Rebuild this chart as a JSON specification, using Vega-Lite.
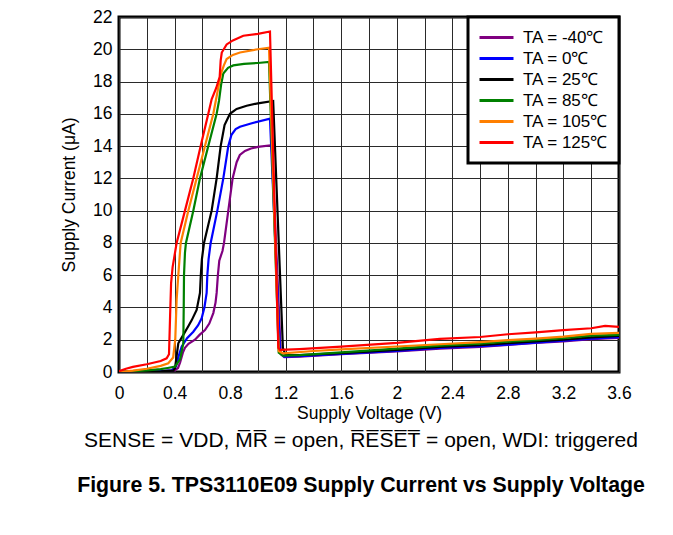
{
 "$schema": "https://vega.github.io/schema/vega-lite/v6.json",
 "width": 500,
 "height": 355,
 "autosize": "none",
 "padding": {"left": 119, "top": 17, "right": 54, "bottom": 163},
 "background": "white",
 "datasets": {
  "curves": [
   {"s":"TA = -40℃","v":0,"i":0},{"s":"TA = -40℃","v":0.1,"i":0.01},{"s":"TA = -40℃","v":0.2,"i":0.02},{"s":"TA = -40℃","v":0.3,"i":0.05},{"s":"TA = -40℃","v":0.4,"i":0.1},{"s":"TA = -40℃","v":0.425,"i":0.25},{"s":"TA = -40℃","v":0.44,"i":0.6},{"s":"TA = -40℃","v":0.46,"i":1.2},{"s":"TA = -40℃","v":0.475,"i":1.5},{"s":"TA = -40℃","v":0.5,"i":1.75},{"s":"TA = -40℃","v":0.547,"i":2.0},{"s":"TA = -40℃","v":0.58,"i":2.3},{"s":"TA = -40℃","v":0.619,"i":2.6},{"s":"TA = -40℃","v":0.65,"i":3.0},{"s":"TA = -40℃","v":0.679,"i":3.65},{"s":"TA = -40℃","v":0.695,"i":4.3},{"s":"TA = -40℃","v":0.703,"i":4.9},{"s":"TA = -40℃","v":0.712,"i":6.0},{"s":"TA = -40℃","v":0.722,"i":6.9},{"s":"TA = -40℃","v":0.745,"i":7.5},{"s":"TA = -40℃","v":0.756,"i":8.0},{"s":"TA = -40℃","v":0.787,"i":10.0},{"s":"TA = -40℃","v":0.818,"i":12.0},{"s":"TA = -40℃","v":0.847,"i":13.0},{"s":"TA = -40℃","v":0.87,"i":13.45},{"s":"TA = -40℃","v":0.907,"i":13.7},{"s":"TA = -40℃","v":0.95,"i":13.85},{"s":"TA = -40℃","v":1.0,"i":13.95},{"s":"TA = -40℃","v":1.1,"i":14.06},{"s":"TA = -40℃","v":1.165,"i":1.1},{"s":"TA = -40℃","v":1.19,"i":0.92},{"s":"TA = -40℃","v":1.3,"i":0.95},{"s":"TA = -40℃","v":1.6,"i":1.1},{"s":"TA = -40℃","v":2.0,"i":1.28},{"s":"TA = -40℃","v":2.31,"i":1.45},{"s":"TA = -40℃","v":2.6,"i":1.55},{"s":"TA = -40℃","v":2.8,"i":1.68},{"s":"TA = -40℃","v":3.0,"i":1.8},{"s":"TA = -40℃","v":3.2,"i":1.9},{"s":"TA = -40℃","v":3.4,"i":2.03},{"s":"TA = -40℃","v":3.6,"i":2.12},

   {"s":"TA = 0℃","v":0,"i":0},{"s":"TA = 0℃","v":0.1,"i":0.01},{"s":"TA = 0℃","v":0.2,"i":0.03},{"s":"TA = 0℃","v":0.3,"i":0.06},{"s":"TA = 0℃","v":0.38,"i":0.1},{"s":"TA = 0℃","v":0.41,"i":0.35},{"s":"TA = 0℃","v":0.43,"i":1.0},{"s":"TA = 0℃","v":0.451,"i":1.57},{"s":"TA = 0℃","v":0.49,"i":2.1},{"s":"TA = 0℃","v":0.535,"i":2.5},{"s":"TA = 0℃","v":0.57,"i":2.9},{"s":"TA = 0℃","v":0.595,"i":3.33},{"s":"TA = 0℃","v":0.615,"i":4.0},{"s":"TA = 0℃","v":0.631,"i":4.9},{"s":"TA = 0℃","v":0.636,"i":6.0},{"s":"TA = 0℃","v":0.645,"i":7.0},{"s":"TA = 0℃","v":0.66,"i":8.0},{"s":"TA = 0℃","v":0.708,"i":10.0},{"s":"TA = 0℃","v":0.751,"i":12.0},{"s":"TA = 0℃","v":0.787,"i":14.0},{"s":"TA = 0℃","v":0.81,"i":14.7},{"s":"TA = 0℃","v":0.84,"i":15.05},{"s":"TA = 0℃","v":0.871,"i":15.2},{"s":"TA = 0℃","v":0.95,"i":15.4},{"s":"TA = 0℃","v":1.087,"i":15.7},{"s":"TA = 0℃","v":1.16,"i":1.2},{"s":"TA = 0℃","v":1.19,"i":0.95},{"s":"TA = 0℃","v":1.3,"i":0.98},{"s":"TA = 0℃","v":1.6,"i":1.12},{"s":"TA = 0℃","v":2.0,"i":1.3},{"s":"TA = 0℃","v":2.31,"i":1.5},{"s":"TA = 0℃","v":2.6,"i":1.6},{"s":"TA = 0℃","v":2.8,"i":1.7},{"s":"TA = 0℃","v":3.0,"i":1.82},{"s":"TA = 0℃","v":3.2,"i":1.95},{"s":"TA = 0℃","v":3.4,"i":2.07},{"s":"TA = 0℃","v":3.6,"i":2.16},

   {"s":"TA = 25℃","v":0,"i":0},{"s":"TA = 25℃","v":0.1,"i":0.01},{"s":"TA = 25℃","v":0.2,"i":0.02},{"s":"TA = 25℃","v":0.3,"i":0.04},{"s":"TA = 25℃","v":0.39,"i":0.08},{"s":"TA = 25℃","v":0.403,"i":0.23},{"s":"TA = 25℃","v":0.415,"i":1.0},{"s":"TA = 25℃","v":0.427,"i":1.78},{"s":"TA = 25℃","v":0.463,"i":2.3},{"s":"TA = 25℃","v":0.5,"i":2.85},{"s":"TA = 25℃","v":0.523,"i":3.2},{"s":"TA = 25℃","v":0.559,"i":3.85},{"s":"TA = 25℃","v":0.583,"i":4.9},{"s":"TA = 25℃","v":0.589,"i":6.0},{"s":"TA = 25℃","v":0.597,"i":7.0},{"s":"TA = 25℃","v":0.612,"i":8.0},{"s":"TA = 25℃","v":0.667,"i":10.0},{"s":"TA = 25℃","v":0.703,"i":12.0},{"s":"TA = 25℃","v":0.732,"i":14.0},{"s":"TA = 25℃","v":0.76,"i":15.3},{"s":"TA = 25℃","v":0.799,"i":16.0},{"s":"TA = 25℃","v":0.847,"i":16.3},{"s":"TA = 25℃","v":0.919,"i":16.5},{"s":"TA = 25℃","v":1.0,"i":16.65},{"s":"TA = 25℃","v":1.11,"i":16.8},{"s":"TA = 25℃","v":1.18,"i":1.5},{"s":"TA = 25℃","v":1.2,"i":1.05},{"s":"TA = 25℃","v":1.3,"i":1.05},{"s":"TA = 25℃","v":1.6,"i":1.17},{"s":"TA = 25℃","v":2.0,"i":1.37},{"s":"TA = 25℃","v":2.31,"i":1.55},{"s":"TA = 25℃","v":2.6,"i":1.66},{"s":"TA = 25℃","v":2.8,"i":1.78},{"s":"TA = 25℃","v":3.0,"i":1.9},{"s":"TA = 25℃","v":3.2,"i":2.0},{"s":"TA = 25℃","v":3.4,"i":2.15},{"s":"TA = 25℃","v":3.6,"i":2.24},

   {"s":"TA = 85℃","v":0,"i":0},{"s":"TA = 85℃","v":0.1,"i":0.05},{"s":"TA = 85℃","v":0.2,"i":0.1},{"s":"TA = 85℃","v":0.3,"i":0.18},{"s":"TA = 85℃","v":0.35,"i":0.25},{"s":"TA = 85℃","v":0.403,"i":0.33},{"s":"TA = 85℃","v":0.44,"i":0.8},{"s":"TA = 85℃","v":0.463,"i":1.78},{"s":"TA = 85℃","v":0.466,"i":4.0},{"s":"TA = 85℃","v":0.468,"i":6.0},{"s":"TA = 85℃","v":0.475,"i":7.4},{"s":"TA = 85℃","v":0.482,"i":8.0},{"s":"TA = 85℃","v":0.535,"i":10.0},{"s":"TA = 85℃","v":0.583,"i":12.0},{"s":"TA = 85℃","v":0.643,"i":14.0},{"s":"TA = 85℃","v":0.703,"i":16.0},{"s":"TA = 85℃","v":0.72,"i":16.8},{"s":"TA = 85℃","v":0.735,"i":17.8},{"s":"TA = 85℃","v":0.751,"i":18.5},{"s":"TA = 85℃","v":0.785,"i":18.85},{"s":"TA = 85℃","v":0.823,"i":19.0},{"s":"TA = 85℃","v":0.9,"i":19.1},{"s":"TA = 85℃","v":1.0,"i":19.15},{"s":"TA = 85℃","v":1.08,"i":19.22},{"s":"TA = 85℃","v":1.15,"i":1.2},{"s":"TA = 85℃","v":1.18,"i":1.02},{"s":"TA = 85℃","v":1.3,"i":1.05},{"s":"TA = 85℃","v":1.6,"i":1.22},{"s":"TA = 85℃","v":2.0,"i":1.45},{"s":"TA = 85℃","v":2.31,"i":1.64},{"s":"TA = 85℃","v":2.6,"i":1.76},{"s":"TA = 85℃","v":2.8,"i":1.88},{"s":"TA = 85℃","v":3.0,"i":1.98},{"s":"TA = 85℃","v":3.2,"i":2.09},{"s":"TA = 85℃","v":3.4,"i":2.26},{"s":"TA = 85℃","v":3.6,"i":2.3},

   {"s":"TA = 105℃","v":0,"i":0},{"s":"TA = 105℃","v":0.1,"i":0.08},{"s":"TA = 105℃","v":0.2,"i":0.2},{"s":"TA = 105℃","v":0.3,"i":0.38},{"s":"TA = 105℃","v":0.355,"i":0.54},{"s":"TA = 105℃","v":0.39,"i":0.9},{"s":"TA = 105℃","v":0.405,"i":2.0},{"s":"TA = 105℃","v":0.415,"i":4.5},{"s":"TA = 105℃","v":0.427,"i":6.0},{"s":"TA = 105℃","v":0.444,"i":8.0},{"s":"TA = 105℃","v":0.499,"i":10.0},{"s":"TA = 105℃","v":0.559,"i":12.0},{"s":"TA = 105℃","v":0.619,"i":14.0},{"s":"TA = 105℃","v":0.679,"i":16.0},{"s":"TA = 105℃","v":0.71,"i":17.4},{"s":"TA = 105℃","v":0.735,"i":18.5},{"s":"TA = 105℃","v":0.755,"i":19.0},{"s":"TA = 105℃","v":0.775,"i":19.4},{"s":"TA = 105℃","v":0.82,"i":19.65},{"s":"TA = 105℃","v":0.871,"i":19.8},{"s":"TA = 105℃","v":1.0,"i":20.0},{"s":"TA = 105℃","v":1.08,"i":20.1},{"s":"TA = 105℃","v":1.15,"i":1.3},{"s":"TA = 105℃","v":1.18,"i":1.16},{"s":"TA = 105℃","v":1.4,"i":1.3},{"s":"TA = 105℃","v":1.6,"i":1.4},{"s":"TA = 105℃","v":2.0,"i":1.58},{"s":"TA = 105℃","v":2.31,"i":1.72},{"s":"TA = 105℃","v":2.6,"i":1.85},{"s":"TA = 105℃","v":2.8,"i":1.97},{"s":"TA = 105℃","v":3.0,"i":2.07},{"s":"TA = 105℃","v":3.2,"i":2.19},{"s":"TA = 105℃","v":3.4,"i":2.36},{"s":"TA = 105℃","v":3.6,"i":2.42},

   {"s":"TA = 125℃","v":0,"i":0.05},{"s":"TA = 125℃","v":0.05,"i":0.2},{"s":"TA = 125℃","v":0.1,"i":0.32},{"s":"TA = 125℃","v":0.2,"i":0.48},{"s":"TA = 125℃","v":0.3,"i":0.68},{"s":"TA = 125℃","v":0.343,"i":0.85},{"s":"TA = 125℃","v":0.36,"i":1.1},{"s":"TA = 125℃","v":0.368,"i":3.5},{"s":"TA = 125℃","v":0.375,"i":5.5},{"s":"TA = 125℃","v":0.386,"i":6.5},{"s":"TA = 125℃","v":0.415,"i":8.0},{"s":"TA = 125℃","v":0.475,"i":10.0},{"s":"TA = 125℃","v":0.535,"i":12.0},{"s":"TA = 125℃","v":0.588,"i":14.0},{"s":"TA = 125℃","v":0.643,"i":16.0},{"s":"TA = 125℃","v":0.667,"i":16.9},{"s":"TA = 125℃","v":0.7,"i":17.6},{"s":"TA = 125℃","v":0.725,"i":18.3},{"s":"TA = 125℃","v":0.732,"i":19.3},{"s":"TA = 125℃","v":0.74,"i":19.8},{"s":"TA = 125℃","v":0.775,"i":20.3},{"s":"TA = 125℃","v":0.82,"i":20.55},{"s":"TA = 125℃","v":0.895,"i":20.84},{"s":"TA = 125℃","v":1.0,"i":20.95},{"s":"TA = 125℃","v":1.087,"i":21.1},{"s":"TA = 125℃","v":1.147,"i":1.5},{"s":"TA = 125℃","v":1.16,"i":1.37},{"s":"TA = 125℃","v":1.3,"i":1.42},{"s":"TA = 125℃","v":1.6,"i":1.57},{"s":"TA = 125℃","v":2.0,"i":1.8},{"s":"TA = 125℃","v":2.31,"i":2.05},{"s":"TA = 125℃","v":2.6,"i":2.17},{"s":"TA = 125℃","v":2.8,"i":2.34},{"s":"TA = 125℃","v":3.0,"i":2.46},{"s":"TA = 125℃","v":3.2,"i":2.59},{"s":"TA = 125℃","v":3.4,"i":2.71},{"s":"TA = 125℃","v":3.5,"i":2.86},{"s":"TA = 125℃","v":3.6,"i":2.8}
  ]
 },
 "data": {"name": "curves"},
 "mark": {"type": "line", "strokeWidth": 2.2, "clip": true},
 "encoding": {
  "x": {
   "field": "v", "type": "quantitative",
   "scale": {"domain": [0, 3.6], "nice": false},
   "axis": {
    "title": "Supply Voltage (V)",
    "values": [0,0.2,0.4,0.6,0.8,1,1.2,1.4,1.6,1.8,2,2.2,2.4,2.6,2.8,3,3.2,3.4,3.6],
    "labelExpr": "round(datum.value*5)%2==0 ? format(datum.value,'~g') : ''",
    "labelPadding": 12,
    "titlePadding": 3
   }
  },
  "y": {
   "field": "i", "type": "quantitative",
   "scale": {"domain": [0, 22], "nice": false},
   "axis": {
    "title": "Supply Current (μA)",
    "values": [0,2,4,6,8,10,12,14,16,18,20,22],
    "labelPadding": 7,
    "titlePadding": 14
   }
  },
  "color": {
   "field": "s", "type": "nominal",
   "scale": {
    "domain": ["TA = -40℃","TA = 0℃","TA = 25℃","TA = 85℃","TA = 105℃","TA = 125℃"],
    "range": ["#800080","#0000FF","#000000","#008000","#FF7F00","#FF0000"]
   },
   "legend": {
    "title": null,
    "orient": "top-right",
    "offset": 0,
    "fillColor": "white",
    "strokeColor": "black",
    "padding": 10,
    "symbolType": "stroke",
    "symbolSize": 1156,
    "symbolStrokeWidth": 3,
    "clipHeight": 21,
    "rowPadding": 0,
    "labelOffset": 8,
    "labelFontSize": 17,
    "labelFont": "Liberation Sans",
    "labelColor": "black",
    "labelLimit": 300,
    "encode": {"legend": {"update": {"strokeWidth": {"value": 3}}}}
   }
  }
 },
 "title": {
  "text": "SENSE = VDD, M\u0305R\u0305 = open, R\u0305E\u0305S\u0305E\u0305T\u0305 = open, WDI: triggered",
  "subtitle": "Figure 5. TPS3110E09 Supply Current vs Supply Voltage",
  "orient": "bottom",
  "anchor": "middle",
  "frame": "group",
  "offset": 8,
  "dx": -8,
  "font": "Liberation Sans",
  "fontSize": 21,
  "fontWeight": "normal",
  "color": "black",
  "subtitleFont": "Liberation Sans",
  "subtitleFontSize": 21.3,
  "subtitleFontWeight": "bold",
  "subtitleColor": "black",
  "subtitlePadding": 24
 },
 "config": {
  "font": "Liberation Sans",
  "view": {"stroke": "black", "strokeWidth": 3},
  "axis": {
   "labelFont": "Liberation Sans",
   "labelFontSize": 17.5,
   "labelColor": "black",
   "titleFont": "Liberation Sans",
   "titleFontSize": 17.5,
   "titleFontWeight": "normal",
   "titleColor": "black",
   "ticks": false,
   "domain": false,
   "grid": true,
   "gridColor": "#2a2a2a",
   "gridWidth": 1,
   "gridOpacity": 1,
   "labelFlush": false,
   "labelOverlap": false
  }
 }
}
